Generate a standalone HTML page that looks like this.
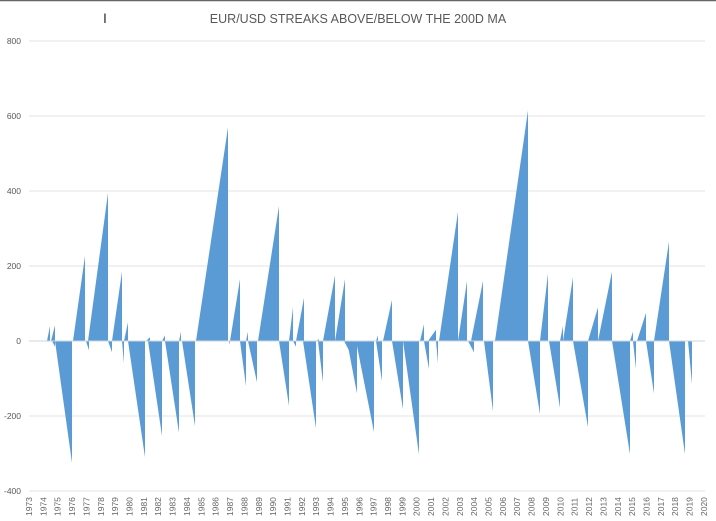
<!DOCTYPE html>
<html><head><meta charset="utf-8"><style>
html,body{margin:0;padding:0;background:#fff;}
svg{display:block;font-family:"Liberation Sans",sans-serif;}
</style></head><body>
<svg width="716" height="521" viewBox="0 0 716 521" xmlns="http://www.w3.org/2000/svg">
<rect x="0" y="0" width="716" height="521" fill="#fff"/>
<line x1="0" y1="0.5" x2="716" y2="0.5" stroke="#666" stroke-width="1.5"/>
<text x="358" y="23" text-anchor="middle" font-size="12.5" fill="#595959">EUR/USD STREAKS ABOVE/BELOW THE 200D MA</text>
<g stroke="#e3e3e3" stroke-width="1">
<line x1="29" y1="41" x2="705" y2="41"/><line x1="29" y1="116" x2="705" y2="116"/>
<line x1="29" y1="191" x2="705" y2="191"/><line x1="29" y1="266" x2="705" y2="266"/>
<line x1="29" y1="416" x2="705" y2="416"/><line x1="29" y1="491" x2="705" y2="491"/>
</g>
<g font-size="8.5" fill="#595959" text-anchor="end">
<text x="21" y="44">800</text><text x="21" y="119">600</text><text x="21" y="194">400</text>
<text x="21" y="269">200</text><text x="21" y="344">0</text><text x="21" y="419">-200</text><text x="21" y="494">-400</text>
</g>
<g fill="#5b9bd5" id="s"></g>
<line x1="29" y1="341" x2="705" y2="341" stroke="#c8d4e3" stroke-width="1"/>
<g id="xl" font-size="8.5" fill="#666"></g>
<text x="103" y="23" font-size="14" fill="#333">I</text>
<script>
var Z=341,K=0.375,ns="http://www.w3.org/2000/svg";
var d=[[47,50,40],[51,55,42],[52,55,-15],[55,72,-325],[73,85,227],[86,89,-25],[88,108,395],[108,112,-30],[112,122,185],[122,124,-60],[124,128,50],[128,145,-310],[146,150,10],[148,162,-253],[162,165,15],[165,179,-245],[179,181,25],[182,195,-227],[196,228,570],[229,230,-10],[230,240,165],[240,246,-120],[246,248,25],[248,257,-110],[258,279,360],[279,289,-173],[289,293,90],[293,296,-15],[296,304,115],[303,316,-233],[316,319,5],[318,323,-110],[323,335,175],[335,345,165],[344,350,-30],[347,357,-140],[356,374,-243],[376,378,15],[376,382,-107],[383,392,110],[392,403,-182],[403,419,-303],[420,424,45],[424,429,-75],[428,436,30],[436,438,-60],[439,458,345],[458,467,160],[468,474,-30],[471,483,160],[484,493,-187],[495,528,615],[528,540,-195],[540,548,180],[549,560,-178],[560,563,40],[563,573,170],[573,588,-230],[588,598,90],[598,612,185],[612,630,-302],[630,633,25],[633,636,-75],[637,646,75],[646,654,-140],[654,669,265],[669,685,-302],[688,692,-115]];
var g=document.getElementById("s");
d.forEach(function(a){var p=document.createElementNS(ns,"polygon");var y=Z-a[2]*K;
p.setAttribute("points",a[0]+","+Z+" "+a[1]+","+y.toFixed(1)+" "+a[1]+","+Z);g.appendChild(p);});
var xl=document.getElementById("xl");
for(var i=0;i<=47;i++){var x=29+i*14.36;var t=document.createElementNS(ns,"text");
t.setAttribute("transform","translate("+(x+3).toFixed(1)+",516) rotate(-90)");t.textContent=1973+i;xl.appendChild(t);}
</script>
</svg>
</body></html>
